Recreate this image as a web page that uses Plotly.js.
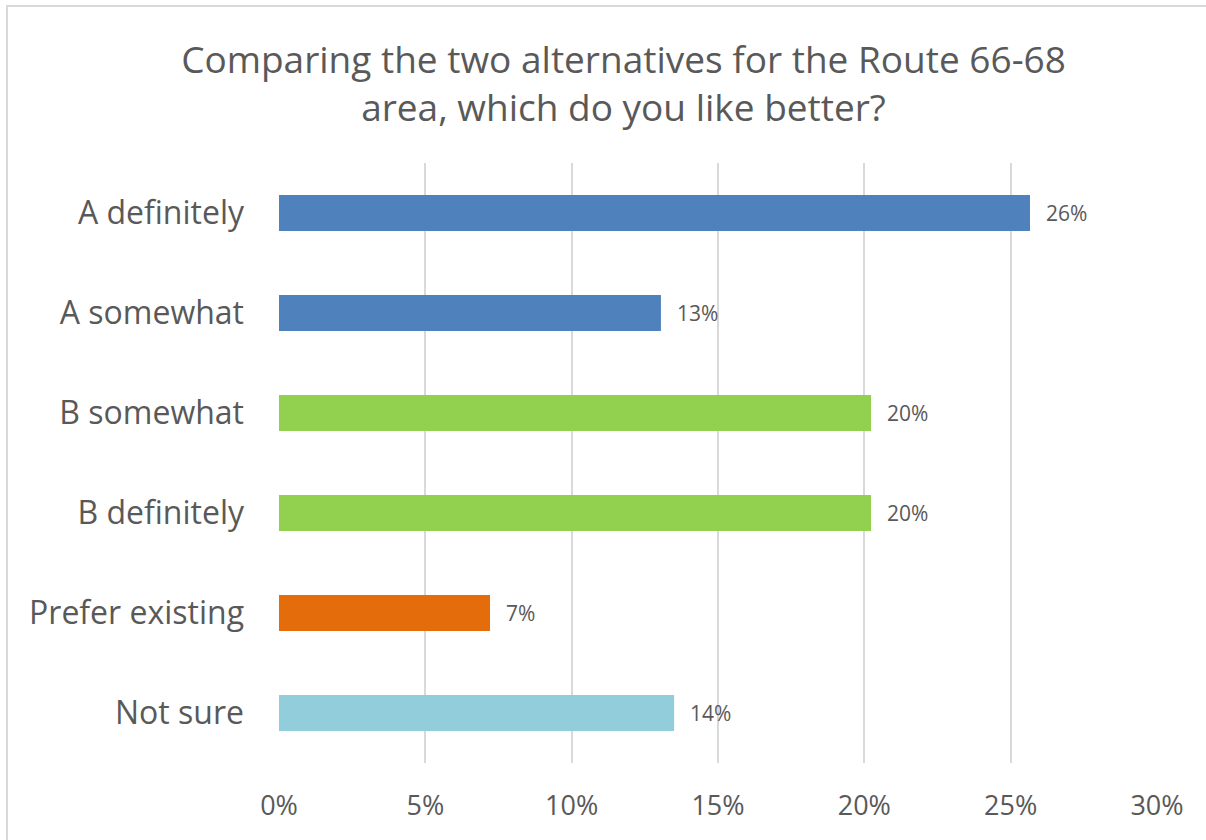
<!DOCTYPE html>
<html>
<head>
<meta charset="utf-8">
<script src="https://cdn.plot.ly/plotly-3.0.1.min.js"></script>
<style>
html,body{margin:0;padding:0;background:#fff;overflow:hidden;}
#chart{width:1206px;height:840px;}
#frame{position:absolute;left:6px;top:5px;width:1210px;height:900px;border:2px solid #d9d9d9;pointer-events:none;box-sizing:border-box;}
</style>
</head>
<body>
<div id="chart"></div>
<div id="frame"></div>
<script>
const categories = ["A definitely", "A somewhat", "B somewhat", "B definitely", "Prefer existing", "Not sure"];
const values = [0.2566, 0.1305, 0.2023, 0.2023, 0.0721, 0.135];
const labels = ["26%", "13%", "20%", "20%", "7%", "14%"];
const colors = ["#4f81bd", "#4f81bd", "#92d050", "#92d050", "#e46c0a", "#92cddc"];
const tickVals = [0, 0.05, 0.10, 0.15, 0.20, 0.25, 0.30];
const tickText = ["0%", "5%", "10%", "15%", "20%", "25%", "30%"];

const font = "'Open Sans', 'Noto Sans', sans-serif";

const trace = {
  type: "bar",
  orientation: "h",
  y: categories,
  x: values,
  marker: {color: colors},
  hoverinfo: "none"
};

const annotations = categories.map((c, i) => ({
  x: values[i], y: c, xref: "x", yref: "y",
  text: labels[i], showarrow: false,
  xanchor: "left", yanchor: "middle", xshift: 14,
  font: {family: font, size: 21, color: "#595959"}
}));

const layout = {
  width: 1206, height: 840,
  margin: {l: 279, r: 49, t: 163, b: 77},
  paper_bgcolor: "#fff", plot_bgcolor: "#fff",
  bargap: 0.64,
  showlegend: false,
  title: {
    text: "Comparing the two alternatives for the Route 66-68<br>area, which do you like better?",
    x: 0.517, xref: "container", xanchor: "center",
    y: 0.913, yref: "container", yanchor: "top",
    font: {family: font, size: 37, color: "#595959"}
  },
  xaxis: {
    range: [0, 0.30], tickvals: tickVals, ticktext: tickText,
    showgrid: true, gridcolor: "#d9d9d9", gridwidth: 2,
    zeroline: false, showline: false, ticks: "",
    tickfont: {family: font, size: 27, color: "#595959"},
    ticklabelstandoff: 24, fixedrange: true
  },
  yaxis: {
    autorange: "reversed", type: "category",
    showgrid: false, zeroline: false, showline: false, ticks: "",
    tickfont: {family: font, size: 32, color: "#595959"},
    ticklabelstandoff: 34, fixedrange: true
  },
  annotations: annotations
};

Plotly.newPlot("chart", [trace], layout, {displayModeBar: false, staticPlot: true});
</script>
</body>
</html>
